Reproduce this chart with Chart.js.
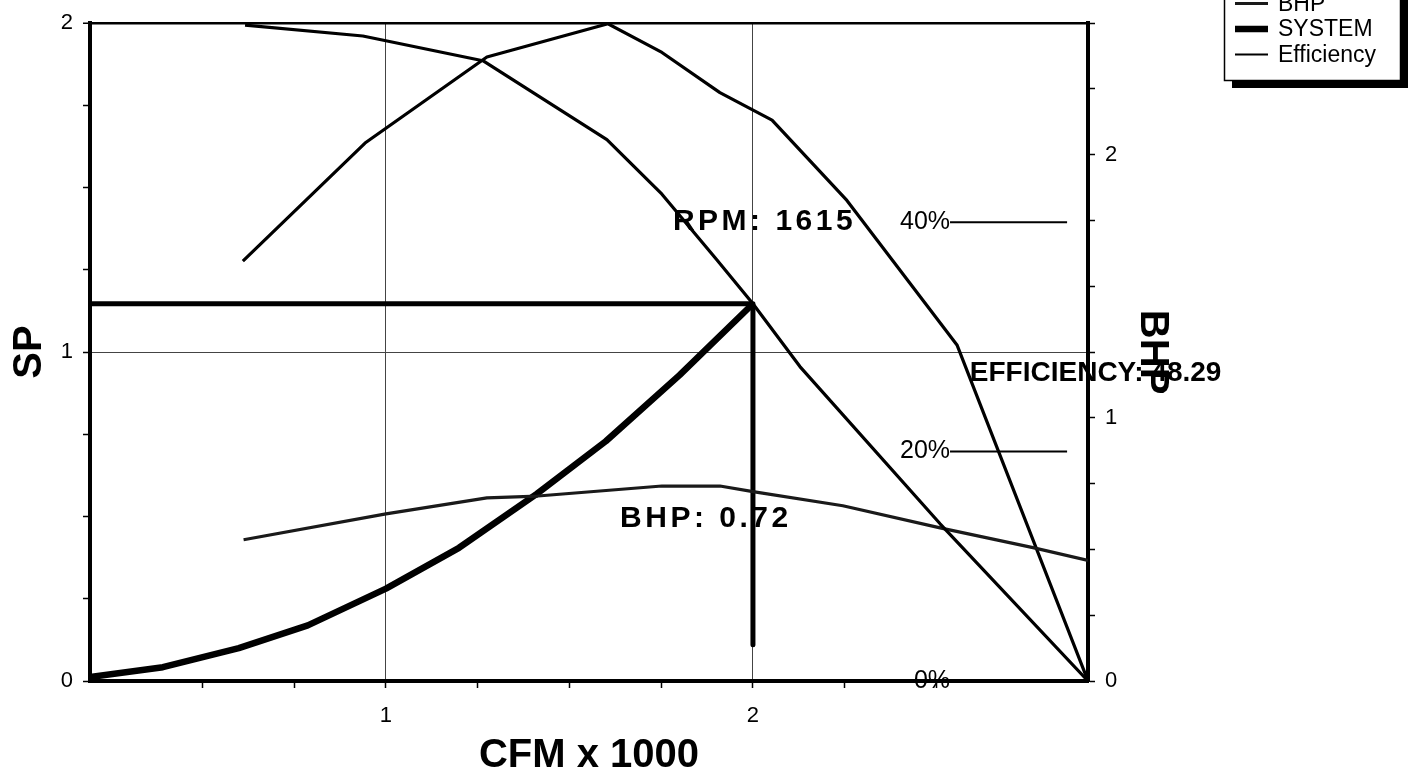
<!DOCTYPE html>
<html>
<head>
<meta charset="utf-8">
<script src="https://cdn.jsdelivr.net/npm/chart.js@4/dist/chart.umd.min.js"></script>
<style>
  html, body { margin: 0; padding: 0; background: #fff; overflow: hidden; }
  #wrap { width: 1414px; height: 771px; position: relative; }
</style>
</head>
<body>
<div id="wrap"><canvas id="c" width="1414" height="771"></canvas></div>
<script>
// ---------- data (CFM in thousands) ----------
const spCfm     = [0.616, 0.937, 1.264, 1.602, 1.752, 1.902, 2.0, 2.128, 2.51, 2.913];
const spValues  = [1.994, 1.961, 1.886, 1.646, 1.48, 1.28, 1.147, 0.956, 0.478, 0];

const bhpCfm    = [0.612, 1.0, 1.275, 1.414, 1.752, 1.91, 2.0, 2.245, 2.51, 2.763, 2.913];
const bhpValues = [0.537, 0.635, 0.696, 0.703, 0.741, 0.741, 0.72, 0.666, 0.582, 0.507, 0.458];

const sysCfm    = [0.1935, 0.392, 0.599, 0.787, 1.0, 1.199, 1.411, 1.599, 1.8, 2.0];
const sysValues = [0.012, 0.042, 0.100, 0.169, 0.281, 0.405, 0.569, 0.729, 0.93, 1.147];

const effCfm    = [0.61, 0.943, 1.275, 1.605, 1.752, 1.91, 2.052, 2.256, 2.556, 2.913];
const effValues = [36.6, 46.9, 54.4, 57.3, 54.8, 51.3, 48.9, 41.9, 29.3, 0];

const opCfm     = [0.1935, 2.0, 2.0];
const opSp      = [1.147, 1.147, 0.11];

const effMarks  = [0, 20, 40];
const cfmRange  = [0.1935, 2.913];
const spRange   = [0, 2];
const bhpRange  = [0, 2.5];
const effRange  = [0, 57.35];

const rpmValue  = 1615;
const bhpAtOp   = '0.72';
const effAtOp   = '48.29';

const seriesNames = ['SP', 'BHP', 'SYSTEM', 'Efficiency'];
const xTitle = 'CFM x 1000';
const yTitle = 'SP';
const y2Title = 'BHP';

// ---------- helpers ----------
const FONT = "'Liberation Sans', Arial, sans-serif";
const pts = (xs, ys) => xs.map((v, i) => ({ x: v, y: ys[i] }));
const isInt = v => Math.abs(v - Math.round(v)) < 1e-6;
const isQuarter = v => Math.abs(v * 4 - Math.round(v * 4)) < 1e-6;
const intLabel = v => isInt(v) ? String(Math.round(v)) : '';

const bgPlugin = {
  id: 'bg',
  beforeDraw(chart) {
    const { ctx } = chart;
    ctx.save();
    ctx.fillStyle = '#fff';
    ctx.fillRect(0, 0, chart.width, chart.height);
    ctx.restore();
  }
};

const annotPlugin = {
  id: 'annot',
  afterDatasetsDraw(chart) {
    const { ctx, scales } = chart;
    const x = scales.x, y = scales.y, yE = scales.yE;
    ctx.save();
    ctx.fillStyle = '#000';
    ctx.strokeStyle = '#000';

    // efficiency reference marks
    ctx.font = `25px ${FONT}`;
    ctx.textAlign = 'right';
    ctx.textBaseline = 'middle';
    const mx0 = x.getPixelForValue(2.537), mx1 = x.getPixelForValue(2.856);
    effMarks.forEach(m => {
      const py = yE.getPixelForValue(m);
      ctx.fillText(m + '%', mx0, py);
      ctx.beginPath();
      ctx.lineWidth = 2;
      ctx.moveTo(mx0, py);
      ctx.lineTo(mx1, py);
      ctx.stroke();
    });

    // operating point labels
    ctx.textAlign = 'left';
    ctx.textBaseline = 'alphabetic';
    ctx.font = `bold 30px ${FONT}`;
    if ('letterSpacing' in ctx) ctx.letterSpacing = '3.5px';
    ctx.fillText('RPM: ' + rpmValue, x.getPixelForValue(1.782), y.getPixelForValue(1.371));
    ctx.fillText('BHP: ' + bhpAtOp, x.getPixelForValue(1.638), y.getPixelForValue(0.469));
    if ('letterSpacing' in ctx) ctx.letterSpacing = '0px';
    ctx.font = `bold 28px ${FONT}`;
    ctx.fillText('EFFICIENCY: ' + effAtOp, x.getPixelForValue(2.591), y.getPixelForValue(0.911));
    ctx.restore();
  }
};

const legendPlugin = {
  id: 'boxLegend',
  afterDraw(chart) {
    const { ctx } = chart;
    const items = chart.data.datasets.filter(d => d.inLegend);
    const bx = chart.width - 190, by = -30, bw = 176, bh = 110;
    ctx.save();
    ctx.fillStyle = '#000';
    ctx.fillRect(bx + 8, by + 8, bw, bh);
    ctx.fillStyle = '#fff';
    ctx.fillRect(bx, by, bw, bh);
    ctx.strokeStyle = '#000';
    ctx.lineWidth = 1.5;
    ctx.strokeRect(bx + 0.5, by + 0.5, bw, bh);
    ctx.font = `23px ${FONT}`;
    ctx.textAlign = 'left';
    ctx.textBaseline = 'alphabetic';
    items.forEach((d, i) => {
      const base = by + 15 + 25.5 * i;
      ctx.beginPath();
      ctx.strokeStyle = d.borderColor;
      ctx.lineWidth = d.legendWidth || d.borderWidth;
      ctx.moveTo(bx + 11, base - 7);
      ctx.lineTo(bx + 44, base - 7);
      ctx.stroke();
      ctx.fillStyle = '#000';
      ctx.fillText(d.label, bx + 54, base);
    });
    ctx.restore();
  }
};

const tickFont = { family: FONT, size: 22 };

new Chart(document.getElementById('c'), {
  type: 'line',
  data: {
    datasets: [
      { label: seriesNames[0], data: pts(spCfm, spValues), yAxisID: 'y', borderColor: '#000', borderWidth: 3.2, inLegend: true },
      { label: seriesNames[1], data: pts(bhpCfm, bhpValues), yAxisID: 'yB', borderColor: '#1a1a1a', borderWidth: 3.2, inLegend: true },
      { label: seriesNames[2], data: pts(sysCfm, sysValues), yAxisID: 'y', borderColor: '#000', borderWidth: 6.5, inLegend: true },
      { label: seriesNames[3], data: pts(effCfm, effValues), yAxisID: 'yE', borderColor: '#000', borderWidth: 3.2, legendWidth: 2, inLegend: true },
      { label: 'Operating point', data: pts(opCfm, opSp), yAxisID: 'y', borderColor: '#000', borderWidth: 5, inLegend: false }
    ]
  },
  options: {
    responsive: false,
    animation: false,
    devicePixelRatio: 1,
    elements: { point: { radius: 0, hoverRadius: 0 }, line: { tension: 0, borderCapStyle: 'butt', borderJoinStyle: 'round' } },
    layout: { padding: { left: 0, top: 20, right: 236, bottom: 0 } },
    plugins: { legend: { display: false }, tooltip: { enabled: false } },
    scales: {
      x: {
        type: 'linear', position: 'bottom', min: cfmRange[0], max: cfmRange[1],
        afterBuildTicks: s => { s.ticks = s.ticks.filter(t => isQuarter(t.value)); },
        afterFit: s => { s.height = 90; },
        ticks: { stepSize: 0.25, autoSkip: false, maxRotation: 0, padding: 15, color: '#000', font: tickFont, callback: v => intLabel(v) },
        grid: {
          color: c => (c.tick && isInt(c.tick.value)) ? '#444' : 'rgba(0,0,0,0)',
          lineWidth: 1, tickColor: '#000', tickLength: 7, tickWidth: 1.5
        },
        border: { color: '#000', width: 4 },
        title: { display: true, text: xTitle, color: '#000', font: { family: FONT, size: 40, weight: 'bold', lineHeight: 0.76 }, padding: { top: 0, bottom: 0 } }
      },
      y: {
        type: 'linear', position: 'left', min: spRange[0], max: spRange[1],
        afterFit: s => { s.width = 90; },
        ticks: { stepSize: 0.25, autoSkip: false, padding: 10, color: '#000', font: tickFont, callback: v => intLabel(v) },
        grid: {
          color: c => {
            if (!c.tick) return 'rgba(0,0,0,0)';
            const v = c.tick.value;
            if (Math.abs(v - spRange[1]) < 1e-6) return '#000';
            return (isInt(v) && v > 0) ? '#444' : 'rgba(0,0,0,0)';
          },
          lineWidth: c => (c.tick && Math.abs(c.tick.value - spRange[1]) < 1e-6) ? 2.5 : 1,
          tickColor: '#000', tickLength: 7, tickWidth: 1.5
        },
        border: { color: '#000', width: 4 },
        title: { display: true, text: yTitle, color: '#000', font: { family: FONT, size: 40, weight: 'bold', lineHeight: 1 }, padding: { top: 10, bottom: 0 } }
      },
      yB: {
        type: 'linear', position: 'right', min: bhpRange[0], max: bhpRange[1],
        afterFit: s => { s.width = 90; },
        ticks: { stepSize: 0.25, autoSkip: false, padding: 10, color: '#000', font: tickFont, callback: v => intLabel(v) },
        grid: { drawOnChartArea: false, color: '#000', tickColor: '#000', tickLength: 7, tickWidth: 1.5 },
        border: { color: '#000', width: 4 },
        title: { display: true, text: y2Title, color: '#000', font: { family: FONT, size: 40, weight: 'bold', lineHeight: 1 }, padding: { top: 6, bottom: 0 } }
      },
      yE: { type: 'linear', display: false, min: effRange[0], max: effRange[1] }
    }
  },
  plugins: [bgPlugin, annotPlugin, legendPlugin]
});
</script>
</body>
</html>
